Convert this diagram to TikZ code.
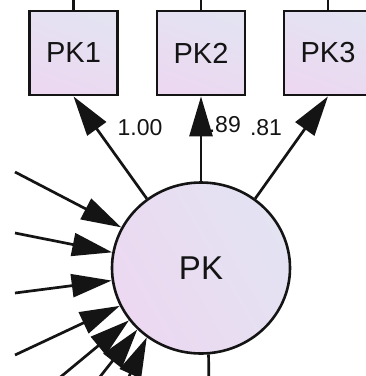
\documentclass[tikz,border=0pt]{standalone}
\usepackage{fontspec}
\setmainfont{Liberation Sans}
\usetikzlibrary{arrows.meta,shapes.geometric}
\definecolor{inkc}{HTML}{141414}
\definecolor{fillA}{HTML}{E3E3F2}
\definecolor{fillB}{HTML}{ECD8F1}
\tikzset{
  obsbox/.style={draw=inkc, line width=2.8pt, minimum width=88pt, minimum height=84pt,
    inner sep=0pt, top color=fillA, bottom color=fillB, shading angle=-20,
    font=\fontsize{29}{29}\selectfont, text=inkc},
  latent/.style={ellipse, draw=inkc, line width=2.6pt, minimum width=178pt, minimum height=171pt,
    inner sep=0pt, left color=fillA, right color=fillB, shading angle=-60,
    font=\fontsize{33}{33}\selectfont, text=inkc},
  coef/.style={font=\fontsize{23}{23}\selectfont, text=inkc, inner sep=0pt},
  path/.style={draw=inkc, line width=2.7pt, -{Triangle[length=40pt,width=23pt]}},
  plain/.style={draw=inkc, line width=2.7pt}
}
\begin{document}
\begin{tikzpicture}[x=1pt,y=-1pt]
\useasboundingbox (0,0) rectangle (366,376);
\clip (0,0) rectangle (366,376);
\fill[white] (0,0) rectangle (366,376);

% observed indicators
\node[obsbox] (pk1) at (73.5,53) {PK1};
\node[obsbox] (pk2) at (201,53) {PK2};
\node[obsbox] (pk3) at (328,53) {PK3};

% latent factor
\node[latent] (pk) at (201,268) {PK};

% error terms above the indicators
\coordinate (e1) at (73.5,-5);
\coordinate (e2) at (201,-5);
\coordinate (e3) at (328,-5);
\draw[plain] (pk1.north) -- (e1);
\draw[plain] (pk2.north) -- (e2);
\draw[plain] (pk3.north) -- (e3);

% loadings
\node[coef] (c1) at (140,128) {1.00};
\node[coef, anchor=east] (c2) at (241,125) {.89};
\node[coef] (c3) at (266,128) {.81};

\draw[path] (pk.128.7) -- (pk1.south);
\draw[path] (pk.north) -- (pk2.south);
\draw[path] (pk.52) -- (pk3.south);

% incoming paths from the left
\coordinate (s1) at (15,172);
\coordinate (s2) at (15,233);
\coordinate (s3) at (15,293);
\coordinate (s4) at (15,355);
\coordinate (s5) at (40,394);
\coordinate (s6) at (88,392);
\coordinate (s7) at (122,392);
\draw[path] (s1) -- (pk.153.7);
\draw[path] (s2) -- (pk.170.4);
\draw[path] (s3) -- (pk.188.7);
\draw[path] (s4) -- (pk.205.7);
\draw[path] (s5) -- (pk.216.5);
\draw[path] (s6) -- (pk.224.6);
\draw[path] (s7) -- (pk.232);

% path leaving downwards
\coordinate (b1) at (209,390);
\draw[plain] (pk.275) -- (b1);
\end{tikzpicture}
\end{document}
